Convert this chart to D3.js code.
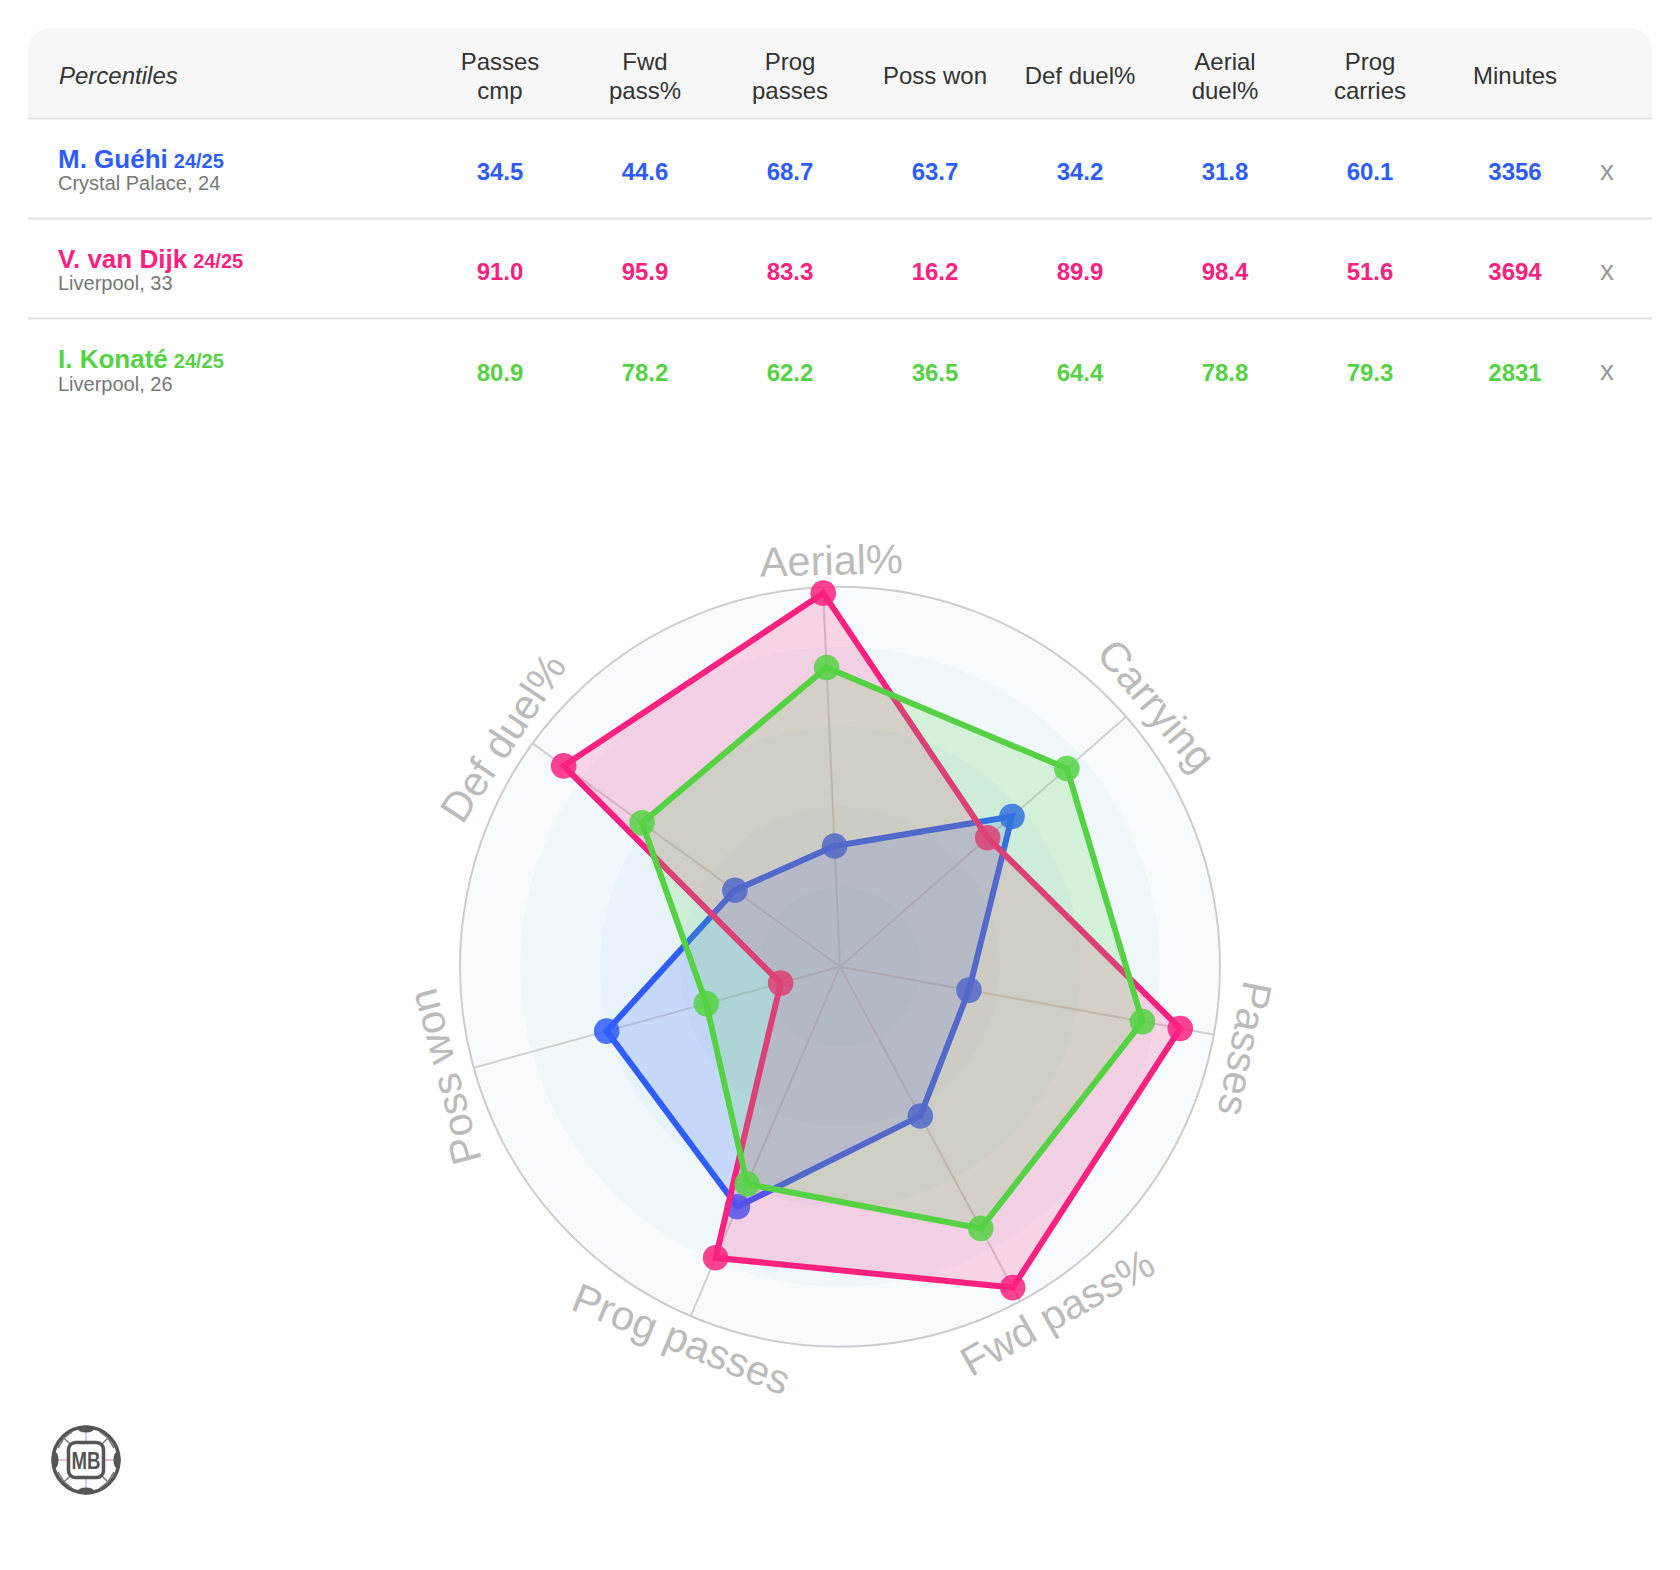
<!DOCTYPE html>
<html>
<head>
<meta charset="utf-8">
<script src="https://cdn.jsdelivr.net/npm/d3@7"></script>
<style>
  html, body { margin: 0; padding: 0; background: #fff; }
  svg { display: block; }
  text { font-family: "Liberation Sans", Arial, sans-serif; }
</style>
</head>
<body>
<div id="chart"></div>
<script>
// table columns
const headers = [["Passes", "cmp"], ["Fwd", "pass%"], ["Prog", "passes"], ["Poss won"], ["Def duel%"], ["Aerial", "duel%"], ["Prog", "carries"], ["Minutes"]];

// players
const names = ["M. Guéhi", "V. van Dijk", "I. Konaté"];
const seasons = ["24/25", "24/25", "24/25"];
const clubs = ["Crystal Palace, 24", "Liverpool, 33", "Liverpool, 26"];
const minutes = [3356, 3694, 2831];
const colors = ["#2e5cff", "#fa2180", "#55d244"];

// percentiles in table order
const guehi = [34.5, 44.6, 68.7, 63.7, 34.2, 31.8, 60.1];
const vanDijk = [91.0, 95.9, 83.3, 16.2, 89.9, 98.4, 51.6];
const konate = [80.9, 78.2, 62.2, 36.5, 64.4, 78.8, 79.3];
const percentiles = [guehi, vanDijk, konate];

// radar axes, clockwise from the top, with the table column they read
const axisLabels = ["Aerial%", "Carrying", "Passes", "Fwd pass%", "Prog passes", "Poss won", "Def duel%"];
const axisColumns = [5, 6, 0, 1, 2, 3, 4];
const ringLevels = [100, 84.2, 63.2, 42.1, 21.05];

const width = 1680, height = 1570;
const svg = d3.select("#chart").append("svg").attr("width", width).attr("height", height);

// ---- table
const x = d3.scalePoint().domain(d3.range(headers.length)).range([500, 1515]);
const rowY = d3.scaleLinear().domain([0, 1]).range([118.5, 218.5]);

svg.append("path")
  .attr("d", "M28,118.5V50a22,22 0 0 1 22,-22H1630a22,22 0 0 1 22,22V118.5Z")
  .attr("fill", "#f7f7f7");

svg.selectAll(".rowline").data([0, 1, 2]).join("line")
  .attr("x1", 28).attr("x2", 1652)
  .attr("y1", d => rowY(d)).attr("y2", d => rowY(d))
  .attr("stroke", "#e2e2e2").attr("stroke-width", 2);

svg.append("text").text("Percentiles")
  .attr("x", 59).attr("y", 84)
  .attr("font-size", 24).attr("font-style", "italic").attr("fill", "#333");

const head = svg.selectAll(".head").data(headers).join("text")
  .attr("text-anchor", "middle").attr("font-size", 24).attr("fill", "#333");
head.selectAll("tspan").data((d, i) => d.map((t, j) => ({ t, i, j, n: d.length }))).join("tspan")
  .attr("x", d => x(d.i))
  .attr("y", d => d.n === 1 ? 84 : 70 + d.j * 28.5)
  .text(d => d.t);

names.forEach((name, p) => {
  const top = rowY(p);
  const color = colors[p];
  // last row sits a touch lower in the original
  const lower = p === 2 ? 0.7 : 0;
  const title = svg.append("text").attr("x", 58).attr("y", top + 49.5)
    .attr("font-weight", "bold").attr("font-size", 26).attr("fill", color);
  title.append("tspan").text(name);
  title.append("tspan").attr("dx", 6).attr("font-size", 20).text(seasons[p]);

  svg.append("text").text(clubs[p])
    .attr("x", 58).attr("y", top + 71.5 + lower)
    .attr("font-size", 20).attr("fill", "#777");

  svg.selectAll(null).data(percentiles[p].map(v => v.toFixed(1)).concat(minutes[p])).join("text")
    .attr("x", (d, i) => x(i)).attr("y", top + 61.5 + lower)
    .attr("text-anchor", "middle").attr("font-weight", "bold").attr("font-size", 24)
    .attr("fill", color).text(d => d);

  svg.append("text").text("x")
    .attr("x", 1607).attr("y", top + 61 + lower)
    .attr("text-anchor", "middle").attr("font-size", 28).attr("fill", "#999");
});

// ---- radar
const cx = 840, cy = 966.7;
const r = d3.scaleLinear().domain([0, 100]).range([0, 380]);
const step = 2 * Math.PI / axisLabels.length;
const start = -step * 0.05;
const angle = i => start + i * step;
const deg = a => a * 180 / Math.PI;

const radar = svg.append("g").attr("transform", `translate(${cx},${cy})`);

radar.selectAll(".ring").data(ringLevels).join("circle")
  .attr("r", d => r(d))
  .attr("fill", "#2f8fd0").attr("fill-opacity", (d, i) => [0.04, 0.04, 0.035, 0.025, 0.02][i]);

radar.selectAll(".spoke").data(axisLabels).join("line")
  .attr("x2", (d, i) => r(100) * Math.sin(angle(i)))
  .attr("y2", (d, i) => -r(100) * Math.cos(angle(i)))
  .attr("stroke", "#d0d0d0").attr("stroke-width", 2);

radar.append("circle").attr("r", r(100))
  .attr("fill", "none").attr("stroke", "#cccccc").attr("stroke-width", 2);

// straight labels tangent to the circle, the two at the bottom turned to read upright
const labelNudge = [1.35, 1.6, 1.17, -3.8, -0.13, -0.15, -1.75];
const labelTilt = [1.2, 1.2, 1.0, -1.2, -1, 0.5, -2.5];
const labelRadius = [392, 396, 398.6, 422.6, 419, 396, 393];
const flipped = [false, false, false, true, true, false, false];
axisLabels.forEach((label, i) => {
  const mid = angle(i) + labelNudge[i] * Math.PI / 180;
  const px = labelRadius[i] * Math.sin(mid), py = -labelRadius[i] * Math.cos(mid);
  const rot = deg(angle(i)) + labelTilt[i] + (flipped[i] ? 180 : 0);
  radar.append("text").text(label)
    .attr("transform", `translate(${px},${py}) rotate(${rot})`)
    .attr("font-size", 41.5).attr("fill", "#bbbbbb").attr("text-anchor", "middle");
});

const line = d3.lineRadial()
  .angle((d, i) => angle(i))
  .radius(d => r(d))
  .curve(d3.curveLinearClosed);

percentiles.forEach((row, p) => {
  const vals = axisColumns.map(c => row[c]);
  const g = radar.append("g");
  g.append("path").attr("d", line(vals))
    .attr("fill", colors[p]).attr("fill-opacity", 0.18)
    .attr("stroke", colors[p]).attr("stroke-width", 6).attr("stroke-linejoin", "miter");
  g.selectAll("circle").data(vals).join("circle")
    .attr("cx", (d, i) => r(d) * Math.sin(angle(i)))
    .attr("cy", (d, i) => -r(d) * Math.cos(angle(i)))
    .attr("r", 12.8)
    .attr("fill", colors[p]).attr("fill-opacity", 0.85);
});

// ---- logo
const logo = svg.append("g").attr("transform", "translate(86,1460)");
logo.append("circle").attr("r", 33).attr("fill", "#fbfcfe").attr("stroke", "#555").attr("stroke-width", 3.5);
[[0, -33, 0, -18, "#b8c4f4"], [0, 18, 0, 33, "#b8c4f4"], [-33, 0, -18, 0, "#f0a8d0"], [18, 0, 33, 0, "#f0a8d0"],
 [-15, -15, -22, -22, "#777"], [15, -15, 22, -22, "#777"], [-15, 15, -22, 22, "#777"], [15, 15, 22, 22, "#777"],
 [-22, -22, -14, -28, "#777"], [22, -22, 14, -28, "#777"], [-22, 22, -14, 28, "#777"], [22, 22, 14, 28, "#777"],
 [-22, -22, -28, -12, "#777"], [22, -22, 28, -12, "#777"], [-22, 22, -28, 12, "#777"], [22, 22, 28, 12, "#777"]
].forEach(s => logo.append("line")
  .attr("x1", s[0]).attr("y1", s[1]).attr("x2", s[2]).attr("y2", s[3])
  .attr("stroke", s[4]).attr("stroke-width", 1.5));
[[0, -31, 8, 3.5], [0, 31, 8, 3.5], [-31, 0, 3.5, 8], [31, 0, 3.5, 8]].forEach(s => logo.append("ellipse")
  .attr("cx", s[0]).attr("cy", s[1]).attr("rx", s[2]).attr("ry", s[3]).attr("fill", "#555"));
logo.append("rect").attr("x", -17.5).attr("y", -17.5).attr("width", 35).attr("height", 35).attr("rx", 7)
  .attr("fill", "#fff").attr("stroke", "#555").attr("stroke-width", 3.5);
logo.append("text").text("MB").attr("text-anchor", "middle").attr("y", 9)
  .attr("font-size", 24).attr("font-weight", "bold").attr("fill", "#555").attr("textLength", 29).attr("lengthAdjust", "spacingAndGlyphs");
</script>
</body>
</html>
